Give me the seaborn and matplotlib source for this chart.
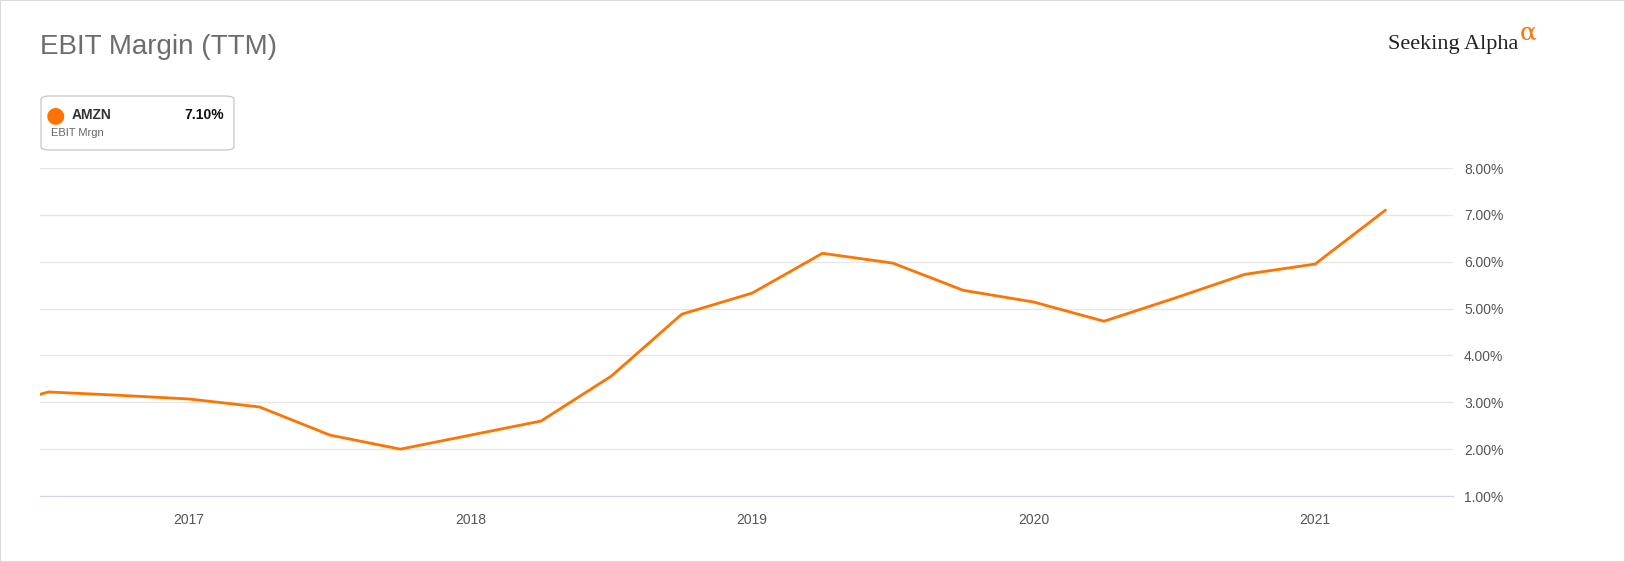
import matplotlib
matplotlib.use("Agg")
import matplotlib.pyplot as plt
import seaborn as sns
import pandas as pd
from matplotlib.patches import FancyBboxPatch

years = [2016.47, 2016.5, 2016.75, 2017.0, 2017.25, 2017.5, 2017.75, 2018.0, 2018.25, 2018.5, 2018.75,
         2019.0, 2019.25, 2019.5, 2019.75, 2020.0, 2020.25, 2020.5, 2020.75, 2021.0, 2021.25]
margin = [3.17, 3.22, 3.15, 3.07, 2.90, 2.30, 2.00, 2.30, 2.60, 3.56, 4.88,
          5.33, 6.18, 5.97, 5.39, 5.14, 4.73, 5.22, 5.73, 5.95, 7.10]
xticks = [2017, 2018, 2019, 2020, 2021]
yticks = [1, 2, 3, 4, 5, 6, 7, 8]

sns.set_style("white")
plt.rcParams['font.family'] = ['Liberation Sans', 'DejaVu Sans']
fig = plt.figure(figsize=(16.25, 5.62), dpi=100)
W, H = 1625, 562
ax = fig.add_axes([40/W, 1-496/H, (1453-40)/W, (496-168)/H])
df = pd.DataFrame({"year": years, "m": margin})
sns.lineplot(data=df, x="year", y="m", ax=ax, color="#ff7300", linewidth=2)
ax.set_xlim(2016.47, 2021.49)
ax.set_ylim(1, 8)
ax.set_yticks(yticks)
ax.set_yticklabels([f"{v:.2f}%" for v in yticks])
ax.yaxis.tick_right()
ax.set_xticks(xticks)
ax.set_xticklabels([str(x) for x in xticks])
ax.tick_params(axis='both', labelsize=10, colors="#555555", length=0, pad=8)
ax.tick_params(axis='x', length=6, color="#ccd6eb", width=1, pad=6)
ax.grid(axis='y', color="#e6e6e6", linewidth=1)
for s in ['top', 'left', 'right']:
    ax.spines[s].set_visible(False)
ax.spines['bottom'].set_color("#ccd6eb")
ax.set_xlabel(""); ax.set_ylabel("")

fig.text(40/W, 1-47/H, "EBIT Margin (TTM)", fontsize=20, color="#6d6d6d", va="center")
fig.text(1518/W, 1-45/H, "Seeking Alpha", fontsize=16, color="#222222", va="center", ha="right",
         family=['Liberation Serif', 'DejaVu Serif'])
fig.text(1520/W, 1-33/H, "α", fontsize=18, color="#ff7300", va="center", ha="left",
         family=['DejaVu Serif'])

box = FancyBboxPatch((41/W, 1-150/H), 193/W, 54/H, boxstyle="round,pad=0,rounding_size=0.006",
                     transform=fig.transFigure, fc="white", ec="#cccccc", lw=1)
fig.patches.append(box)
fig.text(55/W, 1-115/H, "●", fontsize=16, color="#ff7300", va="center", ha="center",
         family=['DejaVu Sans'])
fig.text(72/W, 1-115/H, "AMZN", fontsize=10, fontweight="bold", color="#333333", va="center")
fig.text(224/W, 1-115/H, "7.10%", fontsize=10, fontweight="bold", color="#111111", va="center", ha="right")
fig.text(51/W, 1-133/H, "EBIT Mrgn", fontsize=8, color="#666666", va="center")

border = plt.Rectangle((0, 0), 1, 1, transform=fig.transFigure, fill=False, ec="#d9d9d9", lw=1.5)
fig.patches.append(border)
fig.savefig("out.png", dpi=100)
